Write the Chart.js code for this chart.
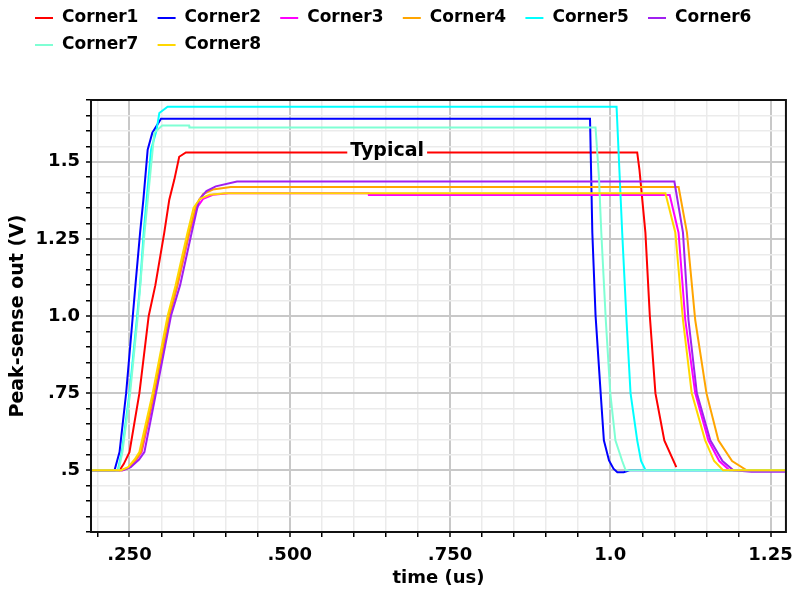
<!DOCTYPE html>
<html lang="en">
<head>
    <meta charset="UTF-8">
    <title>Peak-sense out</title>
    <script src="https://cdn.jsdelivr.net/npm/chart.js@4.4.0/dist/chart.umd.min.js"></script>
    <style>
        body { margin: 0; background: #fff; }
    </style>
</head>
<body>
    <canvas id="myChart" width="801" height="592"></canvas>
    <script>
        // corner names and line colours
        const names = ['Corner1', 'Corner2', 'Corner3', 'Corner4', 'Corner5', 'Corner6', 'Corner7', 'Corner8'];
        const colors = ['#ff0000', '#0000ff', '#ff00ff', '#ffa500', '#00ffff', '#a020f0', '#7fffd4', '#ffd700'];

        // axis ticks (value -> label)
        const xTicks = [0.25, 0.5, 0.75, 1.0, 1.25];
        const xTickText = ['.250', '.500', '.750', '1.0', '1.25'];
        const yTicks = [0.5, 0.75, 1.0, 1.25, 1.5];
        const yTickText = ['.5', '.75', '1.0', '1.25', '1.5'];

        // time (us) / voltage (V) for each corner
        const c1T = [0.19, 0.2345, 0.241, 0.25, 0.2655, 0.28, 0.2904, 0.3043, 0.3121, 0.32, 0.3276, 0.338, 1.042, 1.0455, 1.0548, 1.0616, 1.0704, 1.0843, 1.103];
        const c1V = [0.5, 0.5, 0.52, 0.559, 0.75, 1.0, 1.1, 1.27, 1.377, 1.442, 1.516, 1.53, 1.53, 1.474, 1.27, 1.003, 0.75, 0.597, 0.51];

        const c2T = [0.19, 0.2267, 0.2345, 0.2448, 0.2552, 0.2593, 0.2666, 0.2717, 0.2784, 0.2857, 0.2992, 0.9684, 0.972, 0.977, 0.985, 0.99, 0.998, 1.005, 1.011, 1.021, 1.03, 1.274];
        const c2V = [0.5, 0.5, 0.559, 0.75, 1.0, 1.1, 1.27, 1.377, 1.539, 1.594, 1.639, 1.639, 1.27, 1.003, 0.75, 0.597, 0.532, 0.505, 0.494, 0.494, 0.5, 0.5];

        const c3T = [0.19, 0.24, 0.251, 0.261, 0.269, 0.2895, 0.3125, 0.325, 0.3435, 0.355, 0.365, 0.38, 0.405, 0.623, 0.6235, 1.0927, 1.1065, 1.117, 1.1325, 1.153, 1.17, 1.186, 1.274];
        const c3V = [0.5, 0.5, 0.51, 0.535, 0.559, 0.75, 1.0, 1.1, 1.27, 1.35, 1.38, 1.393, 1.398, 1.398, 1.392, 1.392, 1.27, 0.987, 0.75, 0.597, 0.53, 0.5, 0.5];

        const c4T = [0.19, 0.2385, 0.25, 0.26, 0.268, 0.2885, 0.312, 0.3245, 0.343, 0.354, 0.365, 0.38, 0.408, 1.1066, 1.1196, 1.1325, 1.15, 1.1686, 1.19, 1.2128, 1.274];
        const c4V = [0.5, 0.5, 0.51, 0.535, 0.559, 0.75, 1.0, 1.1, 1.27, 1.36, 1.395, 1.41, 1.418, 1.418, 1.27, 0.987, 0.75, 0.597, 0.53, 0.5, 0.5];

        const c5T = [0.19, 0.2319, 0.238, 0.25, 0.262, 0.2666, 0.2722, 0.2837, 0.292, 0.2966, 0.3095, 1.0098, 1.0186, 1.0253, 1.0316, 1.042, 1.048, 1.055, 1.274];
        const c5V = [0.5, 0.5, 0.559, 0.75, 1.0, 1.1, 1.27, 1.539, 1.6, 1.658, 1.678, 1.678, 1.27, 0.987, 0.75, 0.597, 0.53, 0.5, 0.5];

        const c6T = [0.19, 0.239, 0.252, 0.265, 0.2733, 0.2914, 0.3147, 0.329, 0.347, 0.3587, 0.37, 0.3846, 0.4177, 1.10, 1.1134, 1.122, 1.135, 1.156, 1.175, 1.192, 1.22, 1.274];
        const c6V = [0.5, 0.5, 0.51, 0.535, 0.559, 0.75, 1.0, 1.1, 1.27, 1.377, 1.405, 1.42, 1.436, 1.436, 1.27, 0.987, 0.75, 0.597, 0.53, 0.5, 0.495, 0.495];

        const c7T = [0.19, 0.233, 0.239, 0.251, 0.263, 0.2735, 0.2888, 0.301, 0.343, 0.3435, 0.977, 0.9823, 0.986, 0.993, 1.0, 1.008, 1.0186, 1.024, 1.274];
        const c7V = [0.5, 0.5, 0.559, 0.75, 1.0, 1.27, 1.594, 1.617, 1.617, 1.611, 1.611, 1.451, 1.27, 0.987, 0.75, 0.597, 0.53, 0.5, 0.5];

        const c8T = [0.19, 0.237, 0.248, 0.258, 0.2655, 0.2862, 0.3095, 0.322, 0.3405, 0.35, 0.36, 0.375, 0.40, 1.086, 1.1015, 1.1134, 1.127, 1.148, 1.162, 1.176, 1.274];
        const c8V = [0.5, 0.5, 0.51, 0.535, 0.559, 0.75, 1.0, 1.1, 1.27, 1.35, 1.38, 1.393, 1.398, 1.398, 1.27, 0.987, 0.75, 0.597, 0.53, 0.5, 0.5];

        // where the "Typical" tag sits on Corner1
        const typicalAt = 0.652;
        const typicalV = Math.max(...c1V);

        const times = [c1T, c2T, c3T, c4T, c5T, c6T, c7T, c8T];
        const volts = [c1V, c2V, c3V, c4V, c5V, c6V, c7V, c8V];

        const FONT = 'DejaVu Sans';

        function tickLabel(v, vals, text) {
            const i = vals.findIndex(t => Math.abs(t - v) < 1e-6);
            return i < 0 ? '' : text[i];
        }
        function isMajor(v) {
            return Math.abs(v / 0.25 - Math.round(v / 0.25)) < 1e-6;
        }

        // legend drawn above the plot, two rows, left aligned
        const cornerLegend = {
            id: 'cornerLegend',
            afterDraw(chart) {
                const ctx = chart.ctx;
                ctx.save();
                ctx.font = 'bold 17px "' + FONT + '"';
                ctx.textBaseline = 'middle';
                names.forEach((name, i) => {
                    const x = 35 + (i % 6) * 122.6;
                    const y = 18 + Math.floor(i / 6) * 27;
                    ctx.strokeStyle = colors[i];
                    ctx.lineWidth = 2;
                    ctx.beginPath();
                    ctx.moveTo(x, y);
                    ctx.lineTo(x + 18, y);
                    ctx.stroke();
                    ctx.fillStyle = '#000';
                    ctx.fillText(name, x + 27, y);
                });
                ctx.restore();
            }
        };

        // box around the plot + curve tag
        const plotFrame = {
            id: 'plotFrame',
            afterDatasetsDraw(chart) {
                const { ctx, chartArea: a, scales } = chart;
                ctx.save();
                const x = scales.x.getPixelForValue(typicalAt);
                const y = scales.y.getPixelForValue(typicalV);
                ctx.font = 'bold 19px "' + FONT + '"';
                const w = ctx.measureText('Typical').width;
                ctx.fillStyle = '#fff';
                ctx.fillRect(x - w / 2 - 3, y - 3, w + 6, 6);
                ctx.fillStyle = '#000';
                ctx.textAlign = 'center';
                ctx.textBaseline = 'alphabetic';
                ctx.fillText('Typical', x, y + 4);

                ctx.strokeStyle = '#111';
                ctx.lineWidth = 2;
                ctx.strokeRect(a.left, a.top, a.right - a.left, a.bottom - a.top);
                ctx.restore();
            }
        };

        const datasets = names.map((name, i) => ({
            label: name,
            data: times[i].map((t, k) => ({ x: t, y: volts[i][k] })),
            borderColor: colors[i],
            backgroundColor: colors[i],
            borderWidth: 2,
            pointRadius: 0,
            tension: 0,
            order: names.length - i // later corners drawn on top
        }));

        const gridOpts = {
            color: c => (c.tick && isMajor(c.tick.value)) ? '#c8c8c8' : '#ebebeb',
            lineWidth: c => (c.tick && isMajor(c.tick.value)) ? 2 : 1.5,
            tickColor: '#000',
            tickLength: 5,
            tickWidth: 1.5
        };
        const tickFont = { family: FONT, size: 18, weight: 'bold' };

        new Chart(document.getElementById('myChart').getContext('2d'), {
            type: 'line',
            data: { datasets },
            options: {
                responsive: false,
                animation: false,
                devicePixelRatio: 1,
                layout: { padding: { top: 100, right: 11, left: 0, bottom: 0 } },
                plugins: {
                    legend: { display: false },
                    tooltip: { enabled: false }
                },
                scales: {
                    x: {
                        type: 'linear',
                        min: 0.19,
                        max: 1.274,
                        afterFit(s) { s.height = 60; },
                        border: { display: false },
                        grid: gridOpts,
                        ticks: {
                            stepSize: 0.05,
                            includeBounds: false,
                            autoSkip: false,
                            maxRotation: 0,
                            padding: 8,
                            color: '#000',
                            font: tickFont,
                            callback: v => tickLabel(v, xTicks, xTickText)
                        },
                        title: {
                            display: true,
                            text: 'time (us)',
                            color: '#000',
                            font: { family: FONT, size: 18, weight: 'bold' },
                            padding: { top: 0, bottom: 3 }
                        }
                    },
                    y: {
                        type: 'linear',
                        min: 0.3,
                        max: 1.7,
                        afterFit(s) { s.width = 91; },
                        border: { display: false },
                        grid: gridOpts,
                        ticks: {
                            stepSize: 0.05,
                            includeBounds: false,
                            autoSkip: false,
                            padding: 6,
                            color: '#000',
                            font: tickFont,
                            callback: v => tickLabel(v, yTicks, yTickText)
                        },
                        title: {
                            display: true,
                            text: 'Peak-sense out (V)',
                            color: '#000',
                            font: { family: FONT, size: 19, weight: 'bold' },
                            padding: { top: 7, bottom: 0 }
                        }
                    }
                }
            },
            plugins: [cornerLegend, plotFrame]
        });
    </script>
</body>
</html>
